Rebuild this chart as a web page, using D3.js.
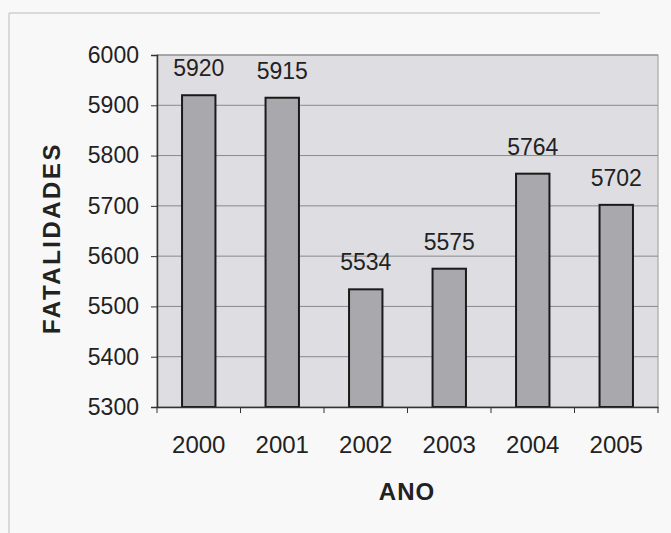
<!DOCTYPE html>
<html>
<head>
<meta charset="utf-8">
<script src="https://cdn.jsdelivr.net/npm/d3@7"></script>
<style>
  body { margin: 0; background: #f8f8f8; }
  svg { display: block; font-family: "Liberation Sans", Arial, sans-serif; }
</style>
</head>
<body>
<div id="chart"></div>
<script>
const years = ['2000', '2001', '2002', '2003', '2004', '2005'];
const fatalities = [5920, 5915, 5534, 5575, 5764, 5702];
const yTicks = [5300, 5400, 5500, 5600, 5700, 5800, 5900, 6000];

const W = 671, H = 533;
const plot = { left: 157, right: 658, top: 55, bottom: 407 };
const fontSize = 23;

const svg = d3.select('#chart').append('svg')
    .attr('width', W)
    .attr('height', H);

// scanned page frame
svg.append('line')
    .attr('x1', 9).attr('y1', 13).attr('x2', 600).attr('y2', 13)
    .attr('stroke', '#cfcfcf').attr('stroke-width', 1.5);
svg.append('line')
    .attr('x1', 9).attr('y1', 13).attr('x2', 9).attr('y2', 533)
    .attr('stroke', '#cfcfcf').attr('stroke-width', 1.5);

const x = d3.scaleBand()
    .domain(years)
    .range([plot.left, plot.right])
    .paddingInner(0.6)
    .paddingOuter(0.3);

const y = d3.scaleLinear()
    .domain([5300, 6000])
    .range([plot.bottom, plot.top]);

// plot background
svg.append('rect')
    .attr('x', plot.left).attr('y', plot.top)
    .attr('width', plot.right - plot.left)
    .attr('height', plot.bottom - plot.top)
    .attr('fill', '#dedee2')
    .attr('stroke', '#9a9a9a');

// grid lines
svg.append('g')
    .selectAll('line')
    .data(yTicks.slice(1))
    .join('line')
    .attr('x1', plot.left).attr('x2', plot.right)
    .attr('y1', d => y(d)).attr('y2', d => y(d))
    .attr('stroke', '#8a8a8a')
    .attr('stroke-width', 1);

// bars
svg.append('g')
    .selectAll('rect')
    .data(fatalities)
    .join('rect')
    .attr('x', (d, i) => x(years[i]))
    .attr('y', d => y(d))
    .attr('width', x.bandwidth())
    .attr('height', d => plot.bottom - y(d))
    .attr('fill', '#a9a9ad')
    .attr('stroke', '#1a1a1a')
    .attr('stroke-width', 2);

// value labels
svg.append('g')
    .selectAll('text')
    .data(fatalities)
    .join('text')
    .attr('x', (d, i) => x(years[i]) + x.bandwidth() / 2)
    .attr('y', d => y(d) - 19)
    .attr('text-anchor', 'middle')
    .attr('font-size', fontSize)
    .attr('fill', '#222')
    .text(d => d);

// y axis
const yAxis = svg.append('g')
    .attr('transform', `translate(${plot.left},0)`)
    .call(d3.axisLeft(y).tickValues(yTicks).tickSize(6).tickPadding(12).tickFormat(d3.format('d')));
yAxis.select('.domain').attr('stroke', '#333').attr('stroke-width', 1.5);
yAxis.selectAll('.tick line').attr('stroke', '#333');
yAxis.selectAll('text').attr('font-size', fontSize).attr('fill', '#222')
    .attr('font-family', '"Liberation Sans", Arial, sans-serif');

// x axis
const xAxis = svg.append('g')
    .attr('transform', `translate(0,${plot.bottom})`)
    .call(d3.axisBottom(x).tickSize(0).tickPadding(29));
xAxis.select('.domain').attr('stroke', '#333').attr('stroke-width', 1.5);
xAxis.selectAll('text').attr('font-size', fontSize + 1).attr('fill', '#222')
    .attr('font-family', '"Liberation Sans", Arial, sans-serif');

// tick marks between categories
const step = (plot.right - plot.left) / years.length;
svg.append('g')
    .selectAll('line')
    .data(d3.range(years.length + 1))
    .join('line')
    .attr('x1', i => plot.left + i * step).attr('x2', i => plot.left + i * step)
    .attr('y1', plot.bottom).attr('y2', plot.bottom + 6)
    .attr('stroke', '#333');

// axis titles
svg.append('text')
    .attr('x', 407).attr('y', 500)
    .attr('text-anchor', 'middle')
    .attr('font-size', 24)
    .attr('font-weight', 'bold')
    .attr('letter-spacing', 1)
    .attr('fill', '#222')
    .text('ANO');

svg.append('text')
    .attr('transform', 'translate(60,238) rotate(-90)')
    .attr('text-anchor', 'middle')
    .attr('font-size', 24)
    .attr('font-weight', 'bold')
    .attr('letter-spacing', 2.5)
    .attr('fill', '#222')
    .text('FATALIDADES');
</script>
</body>
</html>
